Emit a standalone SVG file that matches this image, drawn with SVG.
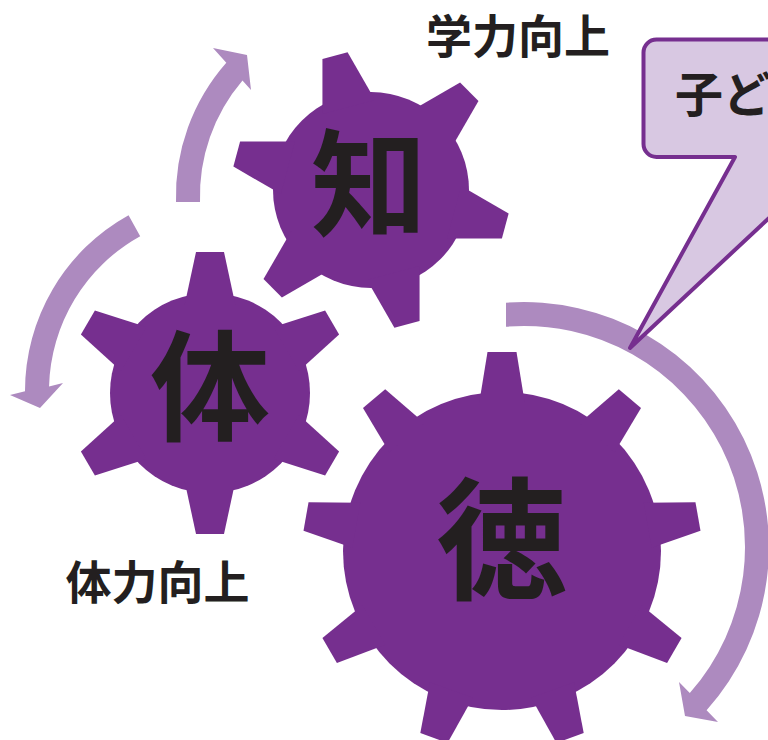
<svg xmlns="http://www.w3.org/2000/svg" xmlns:xlink="http://www.w3.org/1999/xlink" width="768" height="740" viewBox="0 0 768 740">
  <defs>
    <style>
      .gear { fill: #762F8F; }
      .arrow { fill: #AD8ABF; }
      .callout { fill: #D8C8E2; stroke: #762F8F; stroke-width: 4; stroke-linejoin: round; }
      .big { font-family: "Noto Sans CJK JP", "Noto Sans CJK SC", sans-serif; font-weight: 700; fill: #231F20; text-anchor: middle; }
      .label { font-family: "Noto Sans CJK JP", "Noto Sans CJK SC", sans-serif; font-weight: 700; fill: #231F20; font-size: 46px; }
      .calltext { font-family: "Noto Sans CJK JP", "Noto Sans CJK SC", sans-serif; font-weight: 700; fill: #231F20; font-size: 48px; }
    </style>
    <polygon id="toothA" points="86,-27.2 139,-13 139,13 86,27.2"/>
    <polygon id="toothB" points="88,-25.4 141,-14 141,14 88,25.4"/>
    <polygon id="toothC" points="148,-22.8 199,-14.5 199,14.5 148,22.8"/>
  </defs>
  <rect width="768" height="740" fill="#FFFFFF"/>

  <g id="connectors">
    <path class="arrow" d="M176,202 A202,202 0 0 1 226.3,62.7 L213,48 L247,55 L251,90 L242.5,80.6 A178,178 0 0 0 200,202 Z"/>
    <path class="arrow" d="M128.55,215.2 A201,201 0 0 0 25,391.35 L10,395 L40,408 L63,383 L49.06,386.5 A177,177 0 0 1 140.19,236.19 Z"/>
    <path class="arrow" d="M506,302.7 A245,245 0 0 1 706.6,710.3 L718,722 L685,716 L679,682 L689.8,693.1 A221,221 0 0 0 506,326.7 Z"/>
  </g>

  <g id="gear-chi">
    <g class="gear" transform="translate(371,190)">
      <circle r="98"/>
      <use xlink:href="#toothA" transform="rotate(15)"/>
      <use xlink:href="#toothA" transform="rotate(75)"/>
      <use xlink:href="#toothA" transform="rotate(135)"/>
      <use xlink:href="#toothA" transform="rotate(195)"/>
      <use xlink:href="#toothA" transform="rotate(255)"/>
      <use xlink:href="#toothA" transform="rotate(315)"/>
    </g>
    <text class="big" x="369" y="227" font-size="116">知</text>
  </g>

  <g id="gear-tai">
    <g class="gear" transform="translate(210,393)">
      <circle r="100"/>
      <use xlink:href="#toothB" transform="rotate(-90)"/>
      <use xlink:href="#toothB" transform="rotate(-30)"/>
      <use xlink:href="#toothB" transform="rotate(30)"/>
      <use xlink:href="#toothB" transform="rotate(90)"/>
      <use xlink:href="#toothB" transform="rotate(150)"/>
      <use xlink:href="#toothB" transform="rotate(210)"/>
    </g>
    <text class="big" x="210" y="432" font-size="120">体</text>
  </g>

  <g id="gear-toku">
    <g class="gear" transform="translate(502,551)">
      <circle r="159"/>
      <use xlink:href="#toothC" transform="rotate(-90)"/>
      <use xlink:href="#toothC" transform="rotate(-50)"/>
      <use xlink:href="#toothC" transform="rotate(-10)"/>
      <use xlink:href="#toothC" transform="rotate(30)"/>
      <use xlink:href="#toothC" transform="rotate(70)"/>
      <use xlink:href="#toothC" transform="rotate(110)"/>
      <use xlink:href="#toothC" transform="rotate(150)"/>
      <use xlink:href="#toothC" transform="rotate(190)"/>
      <use xlink:href="#toothC" transform="rotate(230)"/>
    </g>
    <text class="big" x="502" y="589" font-size="132">徳</text>
  </g>

  <g id="label-gakuryoku">
    <text class="label" x="518" y="53" text-anchor="middle">学力向上</text>
  </g>
  <g id="label-tairyoku">
    <text class="label" x="157.5" y="599" text-anchor="middle">体力向上</text>
  </g>

  <g id="callout">
    <path class="callout" d="M656.5,39.5 H830 V161 L630,348 L735,157 H656.5 A13,13 0 0 1 643.5,144 V52.5 A13,13 0 0 1 656.5,39.5 Z"/>
    <text class="calltext" x="675" y="112">子ど</text>
  </g>
</svg>
